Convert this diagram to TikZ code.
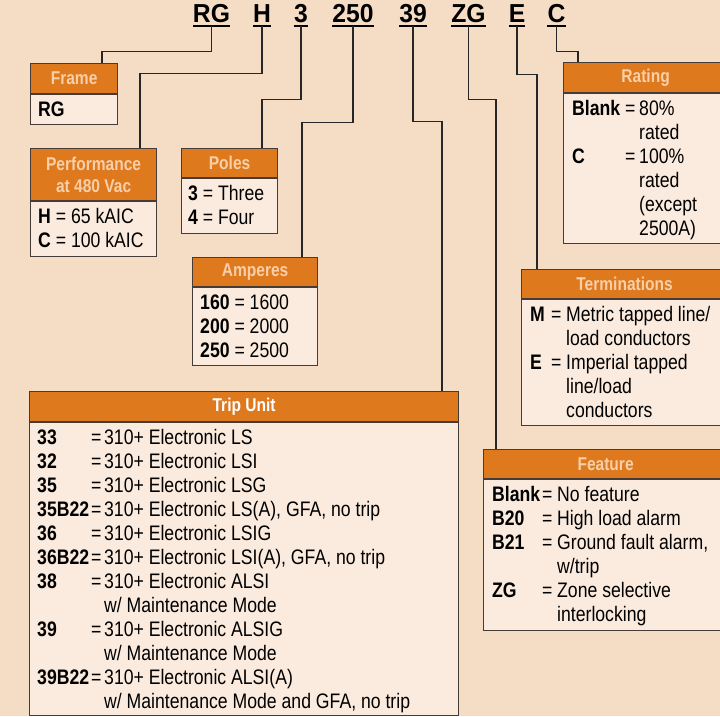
\documentclass[tikz,border=0pt]{standalone}
\usepackage{fontspec}
\setmainfont[FakeStretch=0.84]{Liberation Sans}
\newfontfamily\codefont[FakeStretch=0.95]{Liberation Sans}
\usetikzlibrary{positioning}
\definecolor{pagebg}{RGB}{245,221,197}
\definecolor{bodyfill}{RGB}{251,235,222}
\definecolor{hdrorange}{RGB}{222,121,30}
\definecolor{hdrtext}{RGB}{248,207,168}
\definecolor{boxline}{RGB}{70,60,55}

\begin{document}
\begin{tikzpicture}[
    x=1pt, y=-1pt,
    code/.style={font=\codefont\bfseries\fontsize{26}{28}\selectfont, inner xsep=0pt,
                 inner ysep=4pt, text depth=0pt, anchor=base},
    uline/.style={line width=2pt},
    hdr/.style={draw=boxline, fill=hdrorange, text=hdrtext, line width=1.2pt, inner sep=0pt,
                anchor=north west, align=center, font=\fontsize{18.5}{22}\selectfont\bfseries},
    bdy/.style={draw=boxline, fill=bodyfill, line width=1.2pt, inner sep=0pt, anchor=north west},
    txt/.style={inner sep=0pt, anchor=north west, font=\fontsize{21}{24}\selectfont},
    link/.style={line width=1.3pt, draw=black!85}
]
\clip (0,0) rectangle (720,716);
\fill[pagebg] (0,0) rectangle (720,716);

% catalog number
\node[code] (rg) at (211.5,22) {RG};
\node[code] (h) at (262,22) {H};
\node[code] (p3) at (301,22) {3};
\node[code] (a250) at (353,22) {250};
\node[code] (t39) at (413,22) {39};
\node[code] (zg) at (468.5,22) {ZG};
\node[code] (e) at (517,22) {E};
\node[code] (c) at (556.5,22) {C};
\foreach \c in {rg,h,p3,a250,t39,zg,e,c}
    \draw[uline] (\c.south west) -- (\c.south east);

% Frame
\node[hdr, minimum width=87pt, minimum height=30pt] (frame) at (30,63) {Frame};
\node[bdy, minimum width=87pt, minimum height=30pt] (frame-b) at (frame.south west) {};
\node[txt] (frame-t) at ([shift={(8,5.5)}]frame-b.north west)
    {\begin{tabular}{@{}l@{}}\textbf{RG}\end{tabular}};

% Performance
\node[hdr, minimum width=126pt, minimum height=52pt] (perf) at (30,148) {Performance\\at 480 Vac};
\node[bdy, minimum width=126pt, minimum height=55pt] (perf-b) at (perf.south west) {};
\node[txt] (perf-t) at ([shift={(8,5.5)}]perf-b.north west)
    {\begin{tabular}{@{}l@{}}\textbf{H} = 65 kAIC\\ \textbf{C} = 100 kAIC\end{tabular}};

% Poles
\node[hdr, minimum width=96pt, minimum height=29pt] (poles) at (181,148) {Poles};
\node[bdy, minimum width=96pt, minimum height=55pt] (poles-b) at (poles.south west) {};
\node[txt] (poles-t) at ([shift={(7,5.5)}]poles-b.north west)
    {\begin{tabular}{@{}l@{}}\textbf{3} = Three\\ \textbf{4} = Four\end{tabular}};

% Amperes
\node[hdr, minimum width=125pt, minimum height=29pt] (amps) at (192,257) {Amperes};
\node[bdy, minimum width=125pt, minimum height=78pt] (amps-b) at (amps.south west) {};
\node[txt] (amps-t) at ([shift={(8,5.5)}]amps-b.north west)
    {\begin{tabular}{@{}l@{}}\textbf{160} = 1600\\ \textbf{200} = 2000\\ \textbf{250} = 2500\end{tabular}};

% Trip Unit
\node[hdr, text=white, minimum width=429pt, minimum height=30pt] (trip) at (29,391) {Trip Unit};
\node[bdy, minimum width=429pt, minimum height=293pt] (trip-b) at (trip.south west) {};
\node[txt] (trip-t) at ([shift={(8,5.5)}]trip-b.north west)
    {\begin{tabular}{@{}p{54pt}@{}p{13pt}@{}l@{}}
     \textbf{33} & = & 310+ Electronic LS\\
     \textbf{32} & = & 310+ Electronic LSI\\
     \textbf{35} & = & 310+ Electronic LSG\\
     \textbf{35B22} & = & 310+ Electronic LS(A), GFA, no trip\\
     \textbf{36} & = & 310+ Electronic LSIG\\
     \textbf{36B22} & = & 310+ Electronic LSI(A), GFA, no trip\\
     \textbf{38} & = & 310+ Electronic ALSI\\
      & & w/ Maintenance Mode\\
     \textbf{39} & = & 310+ Electronic ALSIG\\
      & & w/ Maintenance Mode\\
     \textbf{39B22} & = & 310+ Electronic ALSI(A)\\
      & & w/ Maintenance Mode and GFA, no trip
     \end{tabular}};

% Rating
\node[hdr, minimum width=164pt, minimum height=30pt] (rate) at (563,62) {Rating};
\node[bdy, minimum width=164pt, minimum height=150pt] (rate-b) at (rate.south west) {};
\node[txt] (rate-t) at ([shift={(9,5.5)}]rate-b.north west)
    {\begin{tabular}{@{}p{53pt}@{}p{14pt}@{}l@{}}
     \textbf{Blank} & = & 80\%\\
      & & rated\\
     \textbf{C} & = & 100\%\\
      & & rated\\
      & & (except\\
      & & 2500A)
     \end{tabular}};

% Terminations
\node[hdr, minimum width=206pt, minimum height=29pt] (term) at (521,269) {Terminations};
\node[bdy, minimum width=206pt, minimum height=126pt] (term-b) at (term.south west) {};
\node[txt] (term-t) at ([shift={(9,5.5)}]term-b.north west)
    {\begin{tabular}{@{}p{21pt}@{}p{15pt}@{}l@{}}
     \textbf{M} & = & Metric tapped line/\\
      & & load conductors\\
     \textbf{E} & = & Imperial tapped\\
      & & line/load\\
      & & conductors
     \end{tabular}};

% Feature
\node[hdr, minimum width=244pt, minimum height=29pt] (feat) at (483,449) {Feature};
\node[bdy, minimum width=244pt, minimum height=151pt] (feat-b) at (feat.south west) {};
\node[txt] (feat-t) at ([shift={(9,5.5)}]feat-b.north west)
    {\begin{tabular}{@{}p{50pt}@{}p{15pt}@{}l@{}}
     \textbf{Blank} & = & No feature\\
     \textbf{B20} & = & High load alarm\\
     \textbf{B21} & = & Ground fault alarm,\\
      & & w/trip\\
     \textbf{ZG} & = & Zone selective\\
      & & interlocking
     \end{tabular}};

% connectors
\draw[link] (rg.south) -- ++(0,25) -| ([xshift=72pt]frame.north west);
\draw[link] (h.south) -- ++(0,47) -| ([xshift=110pt]perf.north west);
\draw[link] (p3.south) -- ++(0,73) -| ([xshift=81pt]poles.north west);
\draw[link] (a250.south) -- ++(0,96) -| ([xshift=110pt]amps.north west);
\draw[link] (t39.south) -- ++(0,95) -| ([xshift=413pt]trip.north west);
\draw[link] (zg.south) -- ++(0,73) -| ([xshift=13pt]feat.north west);
\draw[link] (e.south) -- ++(0,48) -| ([xshift=16pt]term.north west);
\draw[link] (c.south) -- ++(0,25) -| ([xshift=15pt]rate.north west);

\end{tikzpicture}
\end{document}
